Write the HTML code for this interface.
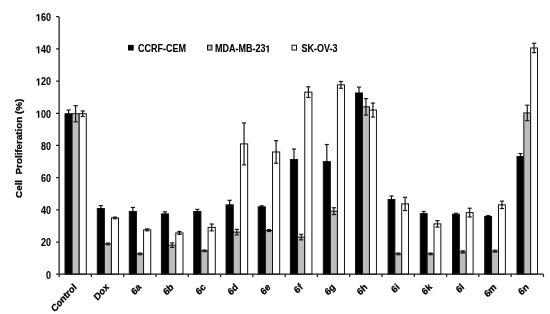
<!DOCTYPE html>
<html><head><meta charset="utf-8"><style>
html,body{margin:0;padding:0;background:#fff;width:550px;height:314px;overflow:hidden}
svg{display:block;filter:grayscale(1)}
.t{font-family:"Liberation Sans",sans-serif;font-weight:bold;font-size:10px;fill:#000;stroke:#000;stroke-width:0.1px}
.r{stroke-width:0.3px}
.h{fill-opacity:0;stroke-opacity:0}
.g{fill:#000;stroke:#000;stroke-width:40px}
</style></head><body>
<svg width="550" height="314" viewBox="0 0 550 314">
<rect x="0" y="0" width="550" height="314" fill="#fff"/>
<rect x="65.00" y="113.75" width="7.10" height="160.45" fill="#000" stroke="#111" stroke-width="1.0"/>
<rect x="72.10" y="113.75" width="7.10" height="160.45" fill="#bdbdbd" stroke="#111" stroke-width="1.0"/>
<rect x="79.20" y="113.75" width="7.10" height="160.45" fill="#fff" stroke="#111" stroke-width="1.0"/>
<rect x="97.30" y="208.56" width="7.06" height="65.63" fill="#000" stroke="#111" stroke-width="1.0"/>
<rect x="104.36" y="243.88" width="7.06" height="30.32" fill="#bdbdbd" stroke="#111" stroke-width="1.0"/>
<rect x="111.42" y="217.92" width="7.06" height="56.28" fill="#fff" stroke="#111" stroke-width="1.0"/>
<rect x="129.30" y="211.47" width="7.14" height="62.73" fill="#000" stroke="#111" stroke-width="1.0"/>
<rect x="136.44" y="253.88" width="7.14" height="20.32" fill="#bdbdbd" stroke="#111" stroke-width="1.0"/>
<rect x="143.58" y="229.85" width="7.14" height="44.35" fill="#fff" stroke="#111" stroke-width="1.0"/>
<rect x="161.40" y="213.89" width="7.20" height="60.31" fill="#000" stroke="#111" stroke-width="1.0"/>
<rect x="168.60" y="245.17" width="7.20" height="29.03" fill="#bdbdbd" stroke="#111" stroke-width="1.0"/>
<rect x="175.80" y="232.91" width="7.20" height="41.29" fill="#fff" stroke="#111" stroke-width="1.0"/>
<rect x="193.75" y="211.47" width="7.18" height="62.73" fill="#000" stroke="#111" stroke-width="1.0"/>
<rect x="200.93" y="250.81" width="7.18" height="23.39" fill="#bdbdbd" stroke="#111" stroke-width="1.0"/>
<rect x="208.11" y="227.43" width="7.18" height="46.77" fill="#fff" stroke="#111" stroke-width="1.0"/>
<rect x="226.05" y="204.86" width="7.20" height="69.34" fill="#000" stroke="#111" stroke-width="1.0"/>
<rect x="233.25" y="232.11" width="7.20" height="42.09" fill="#bdbdbd" stroke="#111" stroke-width="1.0"/>
<rect x="240.45" y="143.90" width="7.20" height="130.30" fill="#fff" stroke="#111" stroke-width="1.0"/>
<rect x="258.20" y="206.79" width="7.16" height="67.41" fill="#000" stroke="#111" stroke-width="1.0"/>
<rect x="265.36" y="230.50" width="7.16" height="43.70" fill="#bdbdbd" stroke="#111" stroke-width="1.0"/>
<rect x="272.52" y="151.97" width="7.16" height="122.23" fill="#fff" stroke="#111" stroke-width="1.0"/>
<rect x="290.40" y="159.55" width="7.18" height="114.65" fill="#000" stroke="#111" stroke-width="1.0"/>
<rect x="297.58" y="237.11" width="7.18" height="37.09" fill="#bdbdbd" stroke="#111" stroke-width="1.0"/>
<rect x="304.76" y="92.14" width="7.18" height="182.06" fill="#fff" stroke="#111" stroke-width="1.0"/>
<rect x="323.30" y="161.64" width="7.06" height="112.56" fill="#000" stroke="#111" stroke-width="1.0"/>
<rect x="330.36" y="211.14" width="7.06" height="63.06" fill="#bdbdbd" stroke="#111" stroke-width="1.0"/>
<rect x="337.42" y="84.89" width="7.06" height="189.31" fill="#fff" stroke="#111" stroke-width="1.0"/>
<rect x="355.50" y="92.95" width="6.98" height="181.25" fill="#000" stroke="#111" stroke-width="1.0"/>
<rect x="362.48" y="106.82" width="6.98" height="167.38" fill="#bdbdbd" stroke="#111" stroke-width="1.0"/>
<rect x="369.46" y="110.04" width="6.98" height="164.16" fill="#fff" stroke="#111" stroke-width="1.0"/>
<rect x="388.10" y="199.53" width="6.80" height="74.66" fill="#000" stroke="#111" stroke-width="1.0"/>
<rect x="394.90" y="253.88" width="6.80" height="20.32" fill="#bdbdbd" stroke="#111" stroke-width="1.0"/>
<rect x="401.70" y="203.89" width="6.80" height="70.31" fill="#fff" stroke="#111" stroke-width="1.0"/>
<rect x="420.30" y="213.56" width="6.85" height="60.64" fill="#000" stroke="#111" stroke-width="1.0"/>
<rect x="427.15" y="253.88" width="6.85" height="20.32" fill="#bdbdbd" stroke="#111" stroke-width="1.0"/>
<rect x="434.00" y="223.88" width="6.85" height="50.32" fill="#fff" stroke="#111" stroke-width="1.0"/>
<rect x="452.50" y="214.21" width="6.87" height="59.99" fill="#000" stroke="#111" stroke-width="1.0"/>
<rect x="459.37" y="251.94" width="6.87" height="22.26" fill="#bdbdbd" stroke="#111" stroke-width="1.0"/>
<rect x="466.24" y="212.60" width="6.87" height="61.60" fill="#fff" stroke="#111" stroke-width="1.0"/>
<rect x="484.70" y="216.47" width="6.90" height="57.73" fill="#000" stroke="#111" stroke-width="1.0"/>
<rect x="491.60" y="251.13" width="6.90" height="23.06" fill="#bdbdbd" stroke="#111" stroke-width="1.0"/>
<rect x="498.50" y="204.86" width="6.90" height="69.34" fill="#fff" stroke="#111" stroke-width="1.0"/>
<rect x="517.00" y="156.48" width="6.83" height="117.72" fill="#000" stroke="#111" stroke-width="1.0"/>
<rect x="523.83" y="112.94" width="6.83" height="161.26" fill="#bdbdbd" stroke="#111" stroke-width="1.0"/>
<rect x="530.66" y="47.96" width="6.83" height="226.24" fill="#fff" stroke="#111" stroke-width="1.0"/>
<path d="M68.55 110.03V117.47" stroke="#000" stroke-width="1.1" fill="none"/>
<path d="M66.45 110.03h4.2" stroke="#1a1a1a" stroke-width="1.2" fill="none"/>
<path d="M66.45 117.47h4.2" stroke="#000" stroke-width="1.2" fill="none"/>
<path d="M75.65 105.67V121.83" stroke="#000" stroke-width="1.1" fill="none"/>
<path d="M73.55 105.67h4.2" stroke="#1a1a1a" stroke-width="1.2" fill="none"/>
<path d="M73.55 121.83h4.2" stroke="#1a1a1a" stroke-width="1.2" fill="none"/>
<path d="M82.75 110.99V116.51" stroke="#000" stroke-width="1.1" fill="none"/>
<path d="M80.65 110.99h4.2" stroke="#1a1a1a" stroke-width="1.2" fill="none"/>
<path d="M80.65 116.51h4.2" stroke="#1a1a1a" stroke-width="1.2" fill="none"/>
<path d="M100.83 205.65V211.48" stroke="#000" stroke-width="1.1" fill="none"/>
<path d="M98.73 205.65h4.2" stroke="#1a1a1a" stroke-width="1.2" fill="none"/>
<path d="M98.73 211.48h4.2" stroke="#000" stroke-width="1.2" fill="none"/>
<path d="M107.89 243.06V244.70" stroke="#000" stroke-width="1.1" fill="none"/>
<path d="M105.79 243.06h4.2" stroke="#1a1a1a" stroke-width="1.2" fill="none"/>
<path d="M105.79 244.70h4.2" stroke="#1a1a1a" stroke-width="1.2" fill="none"/>
<path d="M114.95 217.09V218.74" stroke="#000" stroke-width="1.1" fill="none"/>
<path d="M112.85 217.09h4.2" stroke="#1a1a1a" stroke-width="1.2" fill="none"/>
<path d="M112.85 218.74h4.2" stroke="#1a1a1a" stroke-width="1.2" fill="none"/>
<path d="M132.87 207.42V215.51" stroke="#000" stroke-width="1.1" fill="none"/>
<path d="M130.77 207.42h4.2" stroke="#1a1a1a" stroke-width="1.2" fill="none"/>
<path d="M130.77 215.51h4.2" stroke="#000" stroke-width="1.2" fill="none"/>
<path d="M140.01 253.05V254.70" stroke="#000" stroke-width="1.1" fill="none"/>
<path d="M137.91 253.05h4.2" stroke="#1a1a1a" stroke-width="1.2" fill="none"/>
<path d="M137.91 254.70h4.2" stroke="#1a1a1a" stroke-width="1.2" fill="none"/>
<path d="M147.15 228.87V230.83" stroke="#000" stroke-width="1.1" fill="none"/>
<path d="M145.05 228.87h4.2" stroke="#1a1a1a" stroke-width="1.2" fill="none"/>
<path d="M145.05 230.83h4.2" stroke="#1a1a1a" stroke-width="1.2" fill="none"/>
<path d="M165.00 211.77V216.00" stroke="#000" stroke-width="1.1" fill="none"/>
<path d="M162.90 211.77h4.2" stroke="#1a1a1a" stroke-width="1.2" fill="none"/>
<path d="M162.90 216.00h4.2" stroke="#000" stroke-width="1.2" fill="none"/>
<path d="M172.20 242.89V247.44" stroke="#000" stroke-width="1.1" fill="none"/>
<path d="M170.10 242.89h4.2" stroke="#1a1a1a" stroke-width="1.2" fill="none"/>
<path d="M170.10 247.44h4.2" stroke="#1a1a1a" stroke-width="1.2" fill="none"/>
<path d="M179.40 231.45V234.38" stroke="#000" stroke-width="1.1" fill="none"/>
<path d="M177.30 231.45h4.2" stroke="#1a1a1a" stroke-width="1.2" fill="none"/>
<path d="M177.30 234.38h4.2" stroke="#1a1a1a" stroke-width="1.2" fill="none"/>
<path d="M197.34 209.36V213.58" stroke="#000" stroke-width="1.1" fill="none"/>
<path d="M195.24 209.36h4.2" stroke="#1a1a1a" stroke-width="1.2" fill="none"/>
<path d="M195.24 213.58h4.2" stroke="#000" stroke-width="1.2" fill="none"/>
<path d="M204.52 249.99V251.63" stroke="#000" stroke-width="1.1" fill="none"/>
<path d="M202.42 249.99h4.2" stroke="#1a1a1a" stroke-width="1.2" fill="none"/>
<path d="M202.42 251.63h4.2" stroke="#1a1a1a" stroke-width="1.2" fill="none"/>
<path d="M211.70 224.03V230.83" stroke="#000" stroke-width="1.1" fill="none"/>
<path d="M209.60 224.03h4.2" stroke="#1a1a1a" stroke-width="1.2" fill="none"/>
<path d="M209.60 230.83h4.2" stroke="#1a1a1a" stroke-width="1.2" fill="none"/>
<path d="M229.65 200.32V209.39" stroke="#000" stroke-width="1.1" fill="none"/>
<path d="M227.55 200.32h4.2" stroke="#1a1a1a" stroke-width="1.2" fill="none"/>
<path d="M227.55 209.39h4.2" stroke="#000" stroke-width="1.2" fill="none"/>
<path d="M236.85 229.35V234.86" stroke="#000" stroke-width="1.1" fill="none"/>
<path d="M234.75 229.35h4.2" stroke="#1a1a1a" stroke-width="1.2" fill="none"/>
<path d="M234.75 234.86h4.2" stroke="#1a1a1a" stroke-width="1.2" fill="none"/>
<path d="M244.05 122.92V164.88" stroke="#000" stroke-width="1.1" fill="none"/>
<path d="M241.95 122.92h4.2" stroke="#1a1a1a" stroke-width="1.2" fill="none"/>
<path d="M241.95 164.88h4.2" stroke="#1a1a1a" stroke-width="1.2" fill="none"/>
<path d="M261.78 205.81V207.77" stroke="#000" stroke-width="1.1" fill="none"/>
<path d="M259.68 205.81h4.2" stroke="#1a1a1a" stroke-width="1.2" fill="none"/>
<path d="M259.68 207.77h4.2" stroke="#000" stroke-width="1.2" fill="none"/>
<path d="M268.94 229.51V231.48" stroke="#000" stroke-width="1.1" fill="none"/>
<path d="M266.84 229.51h4.2" stroke="#1a1a1a" stroke-width="1.2" fill="none"/>
<path d="M266.84 231.48h4.2" stroke="#1a1a1a" stroke-width="1.2" fill="none"/>
<path d="M276.10 140.66V163.27" stroke="#000" stroke-width="1.1" fill="none"/>
<path d="M274.00 140.66h4.2" stroke="#1a1a1a" stroke-width="1.2" fill="none"/>
<path d="M274.00 163.27h4.2" stroke="#1a1a1a" stroke-width="1.2" fill="none"/>
<path d="M293.99 149.05V170.04" stroke="#000" stroke-width="1.1" fill="none"/>
<path d="M291.89 149.05h4.2" stroke="#1a1a1a" stroke-width="1.2" fill="none"/>
<path d="M291.89 170.04h4.2" stroke="#000" stroke-width="1.2" fill="none"/>
<path d="M301.17 234.35V239.86" stroke="#000" stroke-width="1.1" fill="none"/>
<path d="M299.07 234.35h4.2" stroke="#1a1a1a" stroke-width="1.2" fill="none"/>
<path d="M299.07 239.86h4.2" stroke="#1a1a1a" stroke-width="1.2" fill="none"/>
<path d="M308.35 86.80V97.48" stroke="#000" stroke-width="1.1" fill="none"/>
<path d="M306.25 86.80h4.2" stroke="#1a1a1a" stroke-width="1.2" fill="none"/>
<path d="M306.25 97.48h4.2" stroke="#1a1a1a" stroke-width="1.2" fill="none"/>
<path d="M326.83 144.53V178.75" stroke="#000" stroke-width="1.1" fill="none"/>
<path d="M324.73 144.53h4.2" stroke="#1a1a1a" stroke-width="1.2" fill="none"/>
<path d="M324.73 178.75h4.2" stroke="#000" stroke-width="1.2" fill="none"/>
<path d="M333.89 207.74V214.55" stroke="#000" stroke-width="1.1" fill="none"/>
<path d="M331.79 207.74h4.2" stroke="#1a1a1a" stroke-width="1.2" fill="none"/>
<path d="M331.79 214.55h4.2" stroke="#1a1a1a" stroke-width="1.2" fill="none"/>
<path d="M340.95 81.48V88.29" stroke="#000" stroke-width="1.1" fill="none"/>
<path d="M338.85 81.48h4.2" stroke="#1a1a1a" stroke-width="1.2" fill="none"/>
<path d="M338.85 88.29h4.2" stroke="#1a1a1a" stroke-width="1.2" fill="none"/>
<path d="M358.99 87.13V98.77" stroke="#000" stroke-width="1.1" fill="none"/>
<path d="M356.89 87.13h4.2" stroke="#1a1a1a" stroke-width="1.2" fill="none"/>
<path d="M356.89 98.77h4.2" stroke="#000" stroke-width="1.2" fill="none"/>
<path d="M365.97 98.58V115.06" stroke="#000" stroke-width="1.1" fill="none"/>
<path d="M363.87 98.58h4.2" stroke="#1a1a1a" stroke-width="1.2" fill="none"/>
<path d="M363.87 115.06h4.2" stroke="#1a1a1a" stroke-width="1.2" fill="none"/>
<path d="M372.95 103.09V116.99" stroke="#000" stroke-width="1.1" fill="none"/>
<path d="M370.85 103.09h4.2" stroke="#1a1a1a" stroke-width="1.2" fill="none"/>
<path d="M370.85 116.99h4.2" stroke="#1a1a1a" stroke-width="1.2" fill="none"/>
<path d="M391.50 195.97V203.10" stroke="#000" stroke-width="1.1" fill="none"/>
<path d="M389.40 195.97h4.2" stroke="#1a1a1a" stroke-width="1.2" fill="none"/>
<path d="M389.40 203.10h4.2" stroke="#000" stroke-width="1.2" fill="none"/>
<path d="M398.30 253.05V254.70" stroke="#000" stroke-width="1.1" fill="none"/>
<path d="M396.20 253.05h4.2" stroke="#1a1a1a" stroke-width="1.2" fill="none"/>
<path d="M396.20 254.70h4.2" stroke="#1a1a1a" stroke-width="1.2" fill="none"/>
<path d="M405.10 197.26V210.52" stroke="#000" stroke-width="1.1" fill="none"/>
<path d="M403.00 197.26h4.2" stroke="#1a1a1a" stroke-width="1.2" fill="none"/>
<path d="M403.00 210.52h4.2" stroke="#1a1a1a" stroke-width="1.2" fill="none"/>
<path d="M423.73 211.45V215.68" stroke="#000" stroke-width="1.1" fill="none"/>
<path d="M421.62 211.45h4.2" stroke="#1a1a1a" stroke-width="1.2" fill="none"/>
<path d="M421.62 215.68h4.2" stroke="#000" stroke-width="1.2" fill="none"/>
<path d="M430.58 253.05V254.70" stroke="#000" stroke-width="1.1" fill="none"/>
<path d="M428.48 253.05h4.2" stroke="#1a1a1a" stroke-width="1.2" fill="none"/>
<path d="M428.48 254.70h4.2" stroke="#1a1a1a" stroke-width="1.2" fill="none"/>
<path d="M437.43 220.64V227.12" stroke="#000" stroke-width="1.1" fill="none"/>
<path d="M435.32 220.64h4.2" stroke="#1a1a1a" stroke-width="1.2" fill="none"/>
<path d="M435.32 227.12h4.2" stroke="#1a1a1a" stroke-width="1.2" fill="none"/>
<path d="M455.94 213.22V215.19" stroke="#000" stroke-width="1.1" fill="none"/>
<path d="M453.83 213.22h4.2" stroke="#1a1a1a" stroke-width="1.2" fill="none"/>
<path d="M453.83 215.19h4.2" stroke="#000" stroke-width="1.2" fill="none"/>
<path d="M462.81 250.80V253.09" stroke="#000" stroke-width="1.1" fill="none"/>
<path d="M460.70 250.80h4.2" stroke="#1a1a1a" stroke-width="1.2" fill="none"/>
<path d="M460.70 253.09h4.2" stroke="#1a1a1a" stroke-width="1.2" fill="none"/>
<path d="M469.68 208.23V216.97" stroke="#000" stroke-width="1.1" fill="none"/>
<path d="M467.57 208.23h4.2" stroke="#1a1a1a" stroke-width="1.2" fill="none"/>
<path d="M467.57 216.97h4.2" stroke="#1a1a1a" stroke-width="1.2" fill="none"/>
<path d="M488.15 215.64V217.29" stroke="#000" stroke-width="1.1" fill="none"/>
<path d="M486.05 215.64h4.2" stroke="#1a1a1a" stroke-width="1.2" fill="none"/>
<path d="M486.05 217.29h4.2" stroke="#000" stroke-width="1.2" fill="none"/>
<path d="M495.05 250.15V252.12" stroke="#000" stroke-width="1.1" fill="none"/>
<path d="M492.95 250.15h4.2" stroke="#1a1a1a" stroke-width="1.2" fill="none"/>
<path d="M492.95 252.12h4.2" stroke="#1a1a1a" stroke-width="1.2" fill="none"/>
<path d="M501.95 201.13V208.58" stroke="#000" stroke-width="1.1" fill="none"/>
<path d="M499.85 201.13h4.2" stroke="#1a1a1a" stroke-width="1.2" fill="none"/>
<path d="M499.85 208.58h4.2" stroke="#1a1a1a" stroke-width="1.2" fill="none"/>
<path d="M520.41 153.56V159.40" stroke="#000" stroke-width="1.1" fill="none"/>
<path d="M518.31 153.56h4.2" stroke="#1a1a1a" stroke-width="1.2" fill="none"/>
<path d="M518.31 159.40h4.2" stroke="#000" stroke-width="1.2" fill="none"/>
<path d="M527.25 105.19V120.70" stroke="#000" stroke-width="1.1" fill="none"/>
<path d="M525.14 105.19h4.2" stroke="#1a1a1a" stroke-width="1.2" fill="none"/>
<path d="M525.14 120.70h4.2" stroke="#1a1a1a" stroke-width="1.2" fill="none"/>
<path d="M534.07 43.27V52.65" stroke="#000" stroke-width="1.1" fill="none"/>
<path d="M531.97 43.27h4.2" stroke="#1a1a1a" stroke-width="1.2" fill="none"/>
<path d="M531.97 52.65h4.2" stroke="#1a1a1a" stroke-width="1.2" fill="none"/>
<path d="M59.10 16.70V276.90M56.10 274.20H543.45M56.10 242.01h3M56.10 209.82h3M56.10 177.64h3M56.10 145.45h3M56.10 113.26h3M56.10 81.07h3M56.10 48.88h3M56.10 16.70h3M91.39 274.20v2.7M123.68 274.20v2.7M155.97 274.20v2.7M188.26 274.20v2.7M220.55 274.20v2.7M252.84 274.20v2.7M285.13 274.20v2.7M317.42 274.20v2.7M349.71 274.20v2.7M382.00 274.20v2.7M414.29 274.20v2.7M446.58 274.20v2.7M478.87 274.20v2.7M511.16 274.20v2.7M543.45 274.20v2.7" stroke="#1e1e1e" stroke-width="1.25" fill="none"/>
<text transform="translate(50.9,278.60) scale(0.9,1)" text-anchor="end" class="t">0</text>
<text transform="translate(50.9,246.41) scale(0.9,1)" text-anchor="end" class="t">20</text>
<text transform="translate(50.9,214.22) scale(0.9,1)" text-anchor="end" class="t">40</text>
<text transform="translate(50.9,182.04) scale(0.9,1)" text-anchor="end" class="t">60</text>
<text transform="translate(50.9,149.85) scale(0.9,1)" text-anchor="end" class="t">80</text>
<text transform="translate(50.9,117.66) scale(0.9,1)" text-anchor="end" class="t"><tspan class="h">1</tspan>00</text>
<path transform="translate(50.9,117.66) scale(0.9,1) translate(-16.671,0) scale(0.004883,-0.004883)" d="M478 0L478 1170L140 959L140 1180L493 1409L759 1409L759 0Z" class="g"/>
<text transform="translate(50.9,85.47) scale(0.9,1)" text-anchor="end" class="t"><tspan class="h">1</tspan>20</text>
<path transform="translate(50.9,85.47) scale(0.9,1) translate(-16.671,0) scale(0.004883,-0.004883)" d="M478 0L478 1170L140 959L140 1180L493 1409L759 1409L759 0Z" class="g"/>
<text transform="translate(50.9,53.28) scale(0.9,1)" text-anchor="end" class="t"><tspan class="h">1</tspan>40</text>
<path transform="translate(50.9,53.28) scale(0.9,1) translate(-16.671,0) scale(0.004883,-0.004883)" d="M478 0L478 1170L140 959L140 1180L493 1409L759 1409L759 0Z" class="g"/>
<text transform="translate(50.9,21.10) scale(0.9,1)" text-anchor="end" class="t"><tspan class="h">1</tspan>60</text>
<path transform="translate(50.9,21.10) scale(0.9,1) translate(-16.671,0) scale(0.004883,-0.004883)" d="M478 0L478 1170L140 959L140 1180L493 1409L759 1409L759 0Z" class="g"/>
<text transform="translate(22,197.9) rotate(-90) scale(0.983,0.9)" class="t r">Cell&#160; Proliferation (%)</text>
<text transform="translate(77.25,287.7) scale(0.9,0.9900000000000001) rotate(-45)" text-anchor="end" class="t r">Control</text>
<text transform="translate(109.53,287.7) scale(0.9,0.9900000000000001) rotate(-45)" text-anchor="end" class="t r">Dox</text>
<text transform="translate(141.82,287.7) scale(0.9,0.9900000000000001) rotate(-45)" text-anchor="end" class="t r">6a</text>
<text transform="translate(174.12,287.7) scale(0.9,0.9900000000000001) rotate(-45)" text-anchor="end" class="t r">6b</text>
<text transform="translate(206.41,287.7) scale(0.9,0.9900000000000001) rotate(-45)" text-anchor="end" class="t r">6c</text>
<text transform="translate(238.69,287.7) scale(0.9,0.9900000000000001) rotate(-45)" text-anchor="end" class="t r">6d</text>
<text transform="translate(270.99,287.7) scale(0.9,0.9900000000000001) rotate(-45)" text-anchor="end" class="t r">6e</text>
<text transform="translate(303.27,287.7) scale(0.9,0.9900000000000001) rotate(-45)" text-anchor="end" class="t r">6f</text>
<text transform="translate(335.56,287.7) scale(0.9,0.9900000000000001) rotate(-45)" text-anchor="end" class="t r">6g</text>
<text transform="translate(367.86,287.7) scale(0.9,0.9900000000000001) rotate(-45)" text-anchor="end" class="t r">6h</text>
<text transform="translate(400.15,287.7) scale(0.9,0.9900000000000001) rotate(-45)" text-anchor="end" class="t r">6i</text>
<text transform="translate(432.44,287.7) scale(0.9,0.9900000000000001) rotate(-45)" text-anchor="end" class="t r">6k</text>
<text transform="translate(464.73,287.7) scale(0.9,0.9900000000000001) rotate(-45)" text-anchor="end" class="t r">6l</text>
<text transform="translate(497.01,287.7) scale(0.9,0.9900000000000001) rotate(-45)" text-anchor="end" class="t r">6m</text>
<text transform="translate(529.30,287.7) scale(0.9,0.9900000000000001) rotate(-45)" text-anchor="end" class="t r">6n</text>
<rect x="128" y="44.9" width="5.7" height="5.6" fill="#000"/>
<rect x="207.5" y="45.2" width="4.5" height="4.8" fill="#bdbdbd" stroke="#111" stroke-width="1"/>
<rect x="292" y="45.2" width="4.5" height="4.8" fill="#fff" stroke="#111" stroke-width="1"/>
<text transform="translate(138,52.3) scale(0.9,1)" class="t">CCRF-CEM</text>
<text transform="translate(215,52.3) scale(0.9,1)" class="t">MDA-MB-23<tspan class="h">1</tspan></text>
<path transform="translate(215,52.3) scale(0.9,1) translate(56.024,0) scale(0.004883,-0.004883)" d="M478 0L478 1170L140 959L140 1180L493 1409L759 1409L759 0Z" class="g"/>
<text transform="translate(301.5,52.3) scale(0.9,1)" class="t">SK-OV-3</text>
</svg>
</body></html>
